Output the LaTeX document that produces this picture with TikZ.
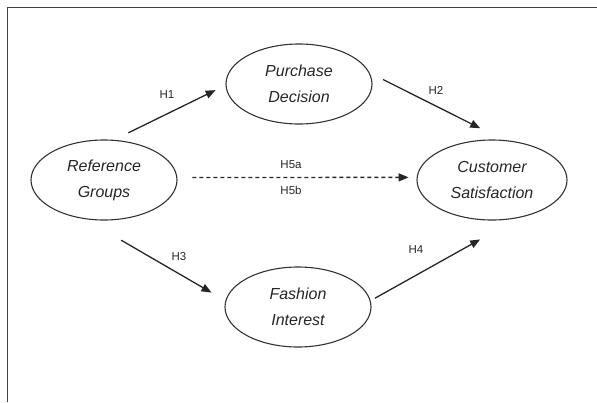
\documentclass[tikz,border=0pt]{standalone}
\usepackage{fontspec}
\setmainfont{Liberation Sans}
\usetikzlibrary{shapes.geometric,arrows.meta}
\tikzstyle{every node}=[inner sep=0pt]
\tikzstyle{construct}=[ellipse,draw=black!80,line width=1.1pt,minimum width=146pt,minimum height=80pt,align=center,text=black!85,font=\fontsize{16}{26}\selectfont\itshape]
\tikzstyle{hyp}=[text=black!85,font=\fontsize{11.5}{14}\selectfont]
\tikzstyle{link}=[line width=1.3pt,color=black!85,-{Triangle[length=10pt,width=8pt]}]

\begin{document}
\begin{tikzpicture}[x=1pt,y=-1pt]
  \useasboundingbox (0,0) rectangle (597,402);
  \draw[line width=1pt,black!75] (7,402) -- (7,7) -- (597,7);
  \node(ref)[construct] at (104,180) {Reference\\Groups};
  \node(pur)[construct] at (299,84) {Purchase\\Decision};
  \node(cs)[construct,minimum width=150pt] at (492,180) {Customer\\Satisfaction};
  \node(fi)[construct] at (298,307) {Fashion\\Interest};
  \path[link]     (ref.76) edge[shorten <=16pt,shorten >=11pt] (pur.181)
                  (pur.9) edge[shorten <=15pt,shorten >=26pt] (cs.74)
                  (ref.-116) edge[shorten <=42pt,shorten >=16pt] (fi.175)
                  (fi.5) edge[shorten <=5pt,shorten >=44pt] (cs.-55)
                  (ref.2) edge[dash pattern=on 4pt off 3pt,shorten <=15pt,shorten >=8pt] (cs.178);
  \node(h1)[hyp] at (167,95) {H1};
  \node(h2)[hyp] at (436,90) {H2};
  \node(h3)[hyp] at (179,257) {H3};
  \node(h4)[hyp] at (416,250) {H4};
  \node(h5a)[hyp] at (291,165) {H5a};
  \node(h5b)[hyp] at (291,190) {H5b};
\end{tikzpicture}
\end{document}
